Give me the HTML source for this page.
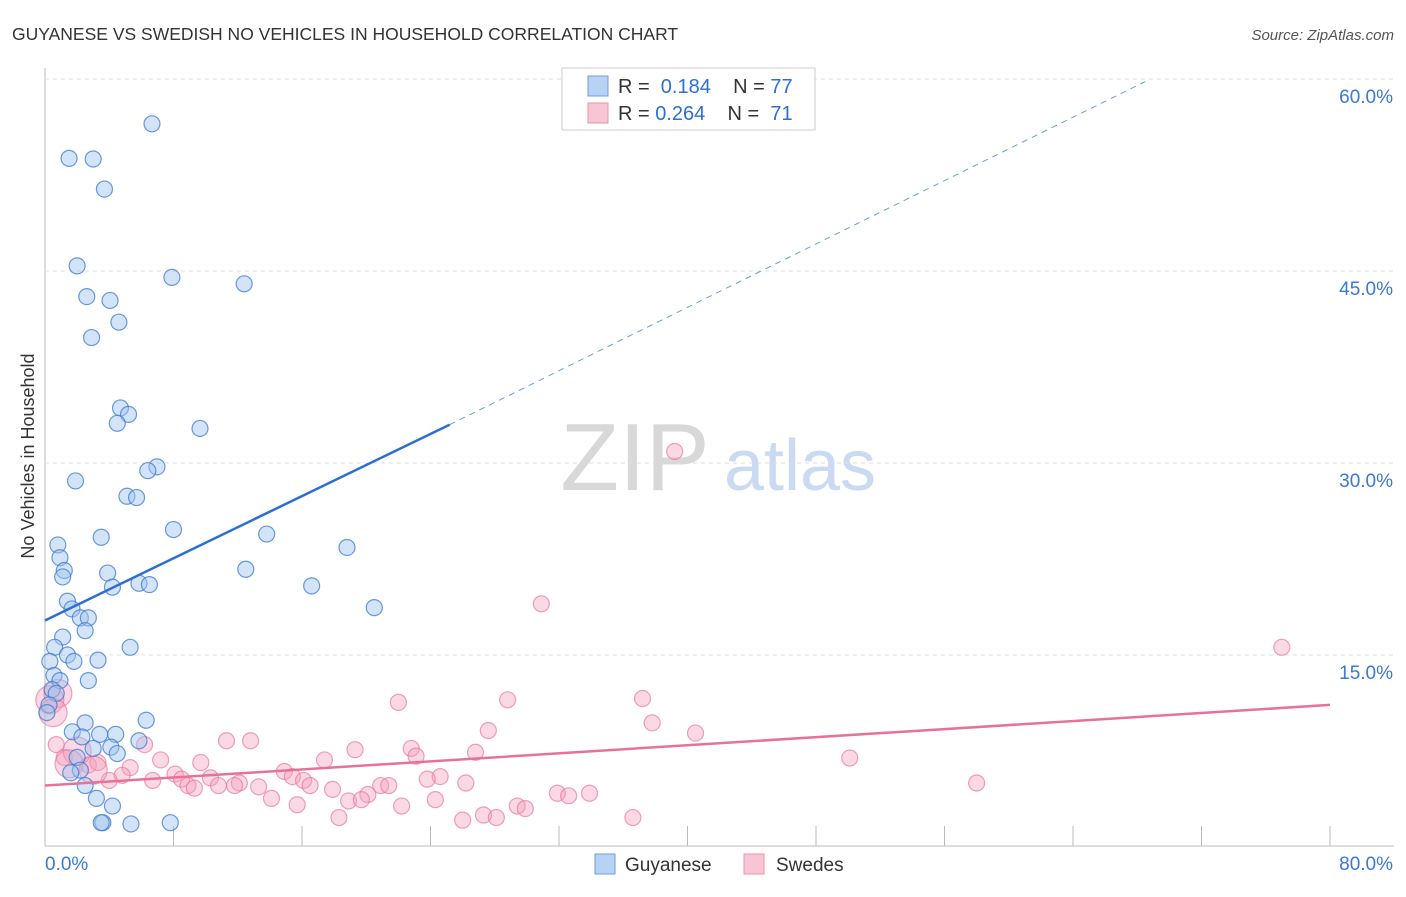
<!DOCTYPE html>
<html><head><meta charset="utf-8"><style>
body{margin:0;background:#fff;font-family:"Liberation Sans",sans-serif}
svg text{font-family:"Liberation Sans",sans-serif}
</style></head><body>
<svg id="c" width="1406" height="892">
<text x="12" y="40" font-size="17.5" fill="#333">GUYANESE VS SWEDISH NO VEHICLES IN HOUSEHOLD CORRELATION CHART</text>
<text x="1394" y="40" font-size="15" fill="#555" font-style="italic" text-anchor="end">Source: ZipAtlas.com</text>
<text transform="translate(34,456) rotate(-90)" font-size="18" fill="#333" text-anchor="middle">No Vehicles in Household</text>
<g><text x="635" y="490" font-size="96" font-family="Liberation Serif,serif" fill="#d8d8d8" text-anchor="middle">ZIP</text><text x="800" y="490" font-size="72" fill="#c9daf2" text-anchor="middle">atlas</text></g>
<g id="grid"></g><g id="marks"></g><g id="trend"></g>
<g>
<rect x="562" y="68" width="253" height="62" fill="#fff" stroke="#ccc"/>
<rect x="588" y="76" width="20" height="20" fill="#b8d2f5" stroke="#6b9de0"/>
<rect x="588" y="103" width="20" height="20" fill="#f8c5d4" stroke="#ec93ae"/>
<text x="618" y="93" font-size="20" fill="#333">R = <tspan fill="#2d6fd1">&#160;0.184</tspan>&#160;&#160;&#160;&#160;N = <tspan fill="#2d6fd1">77</tspan></text>
<text x="618" y="120" font-size="20" fill="#333">R = <tspan fill="#2d6fd1">0.264</tspan>&#160;&#160;&#160;&#160;N = <tspan fill="#2d6fd1">&#160;71</tspan></text>
</g>
<g>
<rect x="595" y="854" width="20" height="20" fill="#b8d2f5" stroke="#6b9de0"/>
<text x="625" y="871" font-size="19" fill="#333">Guyanese</text>
<rect x="744" y="854" width="20" height="20" fill="#f8c5d4" stroke="#ec93ae"/>
<text x="776" y="871" font-size="19" fill="#333">Swedes</text>
</g>
</svg>
<script>
const blueX=[6.66,1.5,3.0,3.7,2.0,7.9,12.4,2.6,4.05,4.6,2.9,4.7,5.2,4.5,9.65,6.97,6.4,1.9,5.1,5.7,8.0,13.8,3.5,18.8,0.8,0.93,1.2,1.1,3.9,12.5,5.85,4.2,6.5,16.6,1.4,1.68,20.5,2.2,2.7,2.5,1.1,0.6,5.3,1.4,3.3,1.8,0.3,0.56,2.7,0.93,0.44,0.7,0.25,0.12,6.3,2.5,1.7,3.4,4.4,2.3,5.85,4.1,3.0,4.5,2.0,2.2,1.6,2.5,3.2,4.2,3.6,3.5,5.35,7.8];
const blueY=[56.5,53.8,53.75,51.4,45.4,44.5,44.0,43.0,42.7,41.0,39.8,34.3,33.8,33.1,32.7,29.7,29.4,28.6,27.4,27.3,24.8,24.45,24.2,23.4,23.6,22.6,21.6,21.1,21.4,21.7,20.6,20.3,20.5,20.4,19.2,18.6,18.7,17.9,17.9,16.9,16.4,15.6,15.6,15.0,14.6,14.5,14.5,13.4,13.0,13.0,12.3,12.0,11.1,10.5,9.9,9.7,9.0,8.8,8.8,8.6,8.3,7.8,7.7,7.3,7.0,6.0,5.8,4.8,3.8,3.2,1.9,1.9,1.8,1.9];
const pinkX=[39.2,30.9,77.0,37.2,22.0,28.8,37.8,27.6,40.5,11.3,12.8,0.7,6.2,19.3,22.8,23.1,26.8,1.2,7.2,9.7,17.4,50.1,2.7,3.3,5.3,14.9,15.4,8.1,4.8,10.3,8.5,16.1,24.6,23.8,16.5,20.9,12.1,6.7,4.0,8.9,10.8,11.8,26.2,9.3,17.9,21.4,13.3,58.0,20.1,31.9,32.6,33.9,14.1,18.9,19.7,24.3,15.7,22.2,29.4,29.9,18.3,26.0,27.3,28.1,36.6,0.8,0.3,2.0,1.5,0.5,3.0];
const pinkY=[30.9,19.0,15.6,11.6,11.3,11.5,9.7,9.1,8.9,8.3,8.3,8.0,8.0,7.6,7.7,7.1,7.4,7.0,6.8,6.6,6.8,6.95,6.4,6.6,6.2,5.9,5.5,5.7,5.6,5.4,5.3,5.2,5.5,5.3,4.8,4.8,5.0,5.2,5.2,4.8,4.8,4.8,5.0,4.6,4.5,4.8,4.7,5.0,4.1,4.2,4.0,4.2,3.8,3.6,3.7,3.7,3.3,3.2,3.2,3.0,2.3,2.1,2.5,2.3,2.3,12.0,11.5,7.5,6.5,10.5,6.0];
const xTicks=[8,16,24,32,40,48,56,64,72,80];
const yTicks=[15,30,45,60];
const blueTrend=[[0,17.7],[25.2,33.0],[68.5,59.8]];
const pinkTrend=[[0,4.8],[80,11.1]];
const X=v=>45+v*1285/80, Y=v=>847-v*192/15;
const NS='http://www.w3.org/2000/svg';
function mk(p,t,a){const e=document.createElementNS(NS,t);for(const k in a)e.setAttribute(k,a[k]);p.appendChild(e);return e;}
const g=document.getElementById('grid'),m=document.getElementById('marks'),tr=document.getElementById('trend');
const ya=mk(g,'line',{x1:45,y1:68,x2:45,y2:846,stroke:'#bbb'});


const xa=mk(g,'line',{x1:45,y1:846,x2:1394,y2:846,stroke:'#bbb'});


yTicks.forEach(v=>{const l=mk(g,'line',{x1:45,y1:Y(v),x2:1394,y2:Y(v),stroke:'#ddd','stroke-dasharray':'4,4'});


const t=mk(g,'text',{x:1393,y:Y(v)+24,'font-size':19,fill:'#3b78d8','text-anchor':'end'});t.textContent=v.toFixed(1)+'%';

});
xTicks.forEach(v=>{const l=mk(g,'line',{x1:X(v),y1:826,x2:X(v),y2:846,stroke:'#bbb'});

});
[[0,'start',45],[80,'end',1393]].forEach(([v,a,x])=>{const t=mk(g,'text',{x:x,y:870,'font-size':19,fill:'#3b78d8','text-anchor':a});t.textContent=v.toFixed(1)+'%';

});
pinkX.forEach((v,i)=>{const r=i>=65?14:8;const c=mk(m,'circle',{cx:X(v),cy:Y(pinkY[i]),r:r,fill:'rgba(244,160,188,0.4)',stroke:'rgba(232,120,160,0.7)','stroke-width':1.2});

});
blueX.forEach((v,i)=>{const c=mk(m,'circle',{cx:X(v),cy:Y(blueY[i]),r:8,fill:'rgba(160,195,240,0.45)',stroke:'rgba(60,120,210,0.75)','stroke-width':1.2});

});
const b1=mk(tr,'line',{x1:X(blueTrend[0][0]),y1:Y(blueTrend[0][1]),x2:X(blueTrend[1][0]),y2:Y(blueTrend[1][1]),stroke:'#2d6fd1','stroke-width':2.5});


const b2=mk(tr,'line',{x1:X(blueTrend[1][0]),y1:Y(blueTrend[1][1]),x2:X(blueTrend[2][0]),y2:Y(blueTrend[2][1]),stroke:'#6b9de0','stroke-width':1,'stroke-dasharray':'6,5'});


const p1=mk(tr,'line',{x1:X(pinkTrend[0][0]),y1:Y(pinkTrend[0][1]),x2:X(pinkTrend[1][0]),y2:Y(pinkTrend[1][1]),stroke:'#e8719a','stroke-width':2.5});


</script>
</body></html>
